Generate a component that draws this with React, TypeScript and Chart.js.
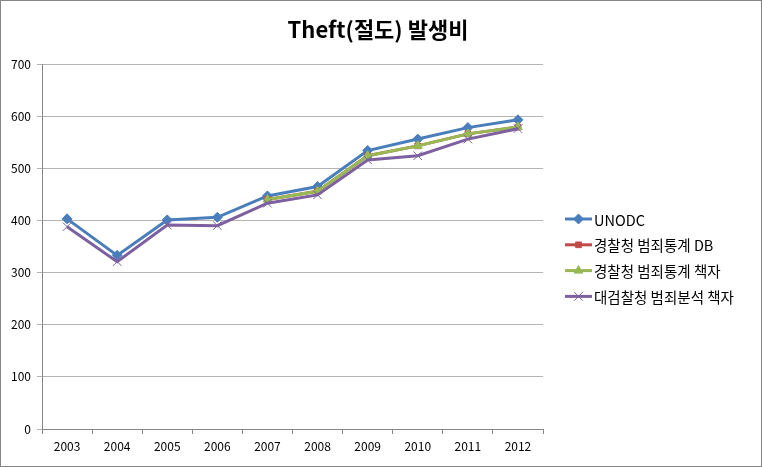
import React, { useEffect, useRef } from "react";
import { Chart, registerables } from "chart.js";
import { drawPoint } from "chart.js/helpers";

Chart.register(...registerables);

const TITLE = "Theft(절도) 발생비";
const CATEGORIES = ["2003", "2004", "2005", "2006", "2007", "2008", "2009", "2010", "2011", "2012"];
const SERIES_NAMES = ["UNODC", "경찰청 범죄통계 DB", "경찰청 범죄통계 책자", "대검찰청 범죄분석 책자"];
const UNODC = [403, 333, 401, 406, 447, 465, 534, 556, 578, 593];
const POLICE_DB = [null, null, null, null, 440, 456, 524, 543, 566, 579];
const POLICE_BOOK = [null, null, null, null, 440, 456, 524, 543, 566, 579];
const PROSECUTORS_BOOK = [388, 321, 391, 390, 433, 449, 516, 524, 556, 576];
const Y_MIN = 0;
const Y_MAX = 700;
const Y_STEP = 100;

const FONT = '"Noto Sans CJK KR", "Noto Sans", sans-serif';

export default function App() {
  const ref = useRef<HTMLCanvasElement | null>(null);

  useEffect(() => {
    if (!ref.current) return;
    const decor = {
      id: "decor",
      afterDraw(chart: any) {
        const ctx = chart.ctx as CanvasRenderingContext2D;
        ctx.save();
        ctx.strokeStyle = "#868686";
        ctx.lineWidth = 1;
        ctx.strokeRect(0.5, 0.5, chart.width - 1, chart.height - 1);
        ctx.fillStyle = "#000";
        ctx.font = `bold 22px ${FONT}`;
        ctx.textAlign = "center";
        ctx.textBaseline = "middle";
        ctx.fillText(TITLE, 378, 30);
        ctx.font = `14.5px ${FONT}`;
        ctx.textAlign = "left";
        chart.data.datasets.forEach((ds: any, i: number) => {
          const y = 219 + i * 25.8;
          ctx.strokeStyle = ds.borderColor;
          ctx.lineWidth = 3;
          ctx.beginPath();
          ctx.moveTo(565, y);
          ctx.lineTo(592, y);
          ctx.stroke();
          ctx.fillStyle = ds.pointBackgroundColor;
          ctx.strokeStyle = ds.pointBorderColor;
          ctx.lineWidth = ds.pointBorderWidth;
          drawPoint(ctx, { pointStyle: ds.pointStyle, radius: ds.pointRadius, borderWidth: ds.pointBorderWidth, rotation: 0 } as any, 578.5, y);
          ctx.fillStyle = "#000";
          ctx.fillText(ds.label, 594, y + 1);
        });
        ctx.restore();
      },
    };

    const mk = (label: string, data: any[], color: string, style: string, radius: number, bw: number, order: number) => ({
      label,
      data,
      order,
      borderColor: color,
      backgroundColor: color,
      borderWidth: 3,
      pointStyle: style,
      pointRadius: radius,
      pointHoverRadius: radius,
      pointBackgroundColor: color,
      pointBorderColor: color,
      pointBorderWidth: bw,
      tension: 0,
      spanGaps: false,
    });

    const chart = new Chart(ref.current, {
      type: "line",
      data: {
        labels: CATEGORIES,
        datasets: [
          mk(SERIES_NAMES[0], UNODC, "#4A7EBB", "rectRot", 5, 1, 4),
          mk(SERIES_NAMES[1], POLICE_DB, "#BE4B48", "rect", 4, 1, 3),
          mk(SERIES_NAMES[2], POLICE_BOOK, "#98B954", "triangle", 5, 1, 2),
          mk(SERIES_NAMES[3], PROSECUTORS_BOOK, "#7D60A0", "crossRot", 6, 1, 1),
        ] as any,
      },
      options: {
        animation: false,
        responsive: false,
        maintainAspectRatio: false,
        layout: { padding: { top: 64, right: 219, bottom: 0, left: 0 } },
        plugins: {
          legend: { display: false },
          title: { display: false },
          tooltip: { enabled: false },
        },
        scales: {
          x: {
            type: "category",
            offset: true,
            afterFit: (s: any) => { s.height = 38; },
            grid: { display: true, drawOnChartArea: false, drawTicks: true, tickLength: 5, color: "#868686", offset: true },
            border: { display: true, color: "#868686", width: 1 },
            ticks: { color: "#000", font: { family: FONT, size: 12 }, padding: 5, maxRotation: 0 },
          },
          y: {
            min: Y_MIN,
            max: Y_MAX,
            afterFit: (s: any) => { s.width = 42; },
            grid: { color: "#B4B4B4", drawTicks: true, tickLength: 5 },
            border: { display: true, color: "#868686", width: 1 },
            ticks: { stepSize: Y_STEP, color: "#000", font: { family: FONT, size: 12 }, padding: 6 },
          },
        },
      },
      plugins: [decor],
    } as any);
    return () => chart.destroy();
  }, []);

  return (
    <div style={{ position: "fixed", left: 0, top: 0, width: 762, height: 467, background: "#fff" }}>
      <canvas ref={ref} width={762} height={467} style={{ width: 762, height: 467, display: "block" }} />
    </div>
  );
}
